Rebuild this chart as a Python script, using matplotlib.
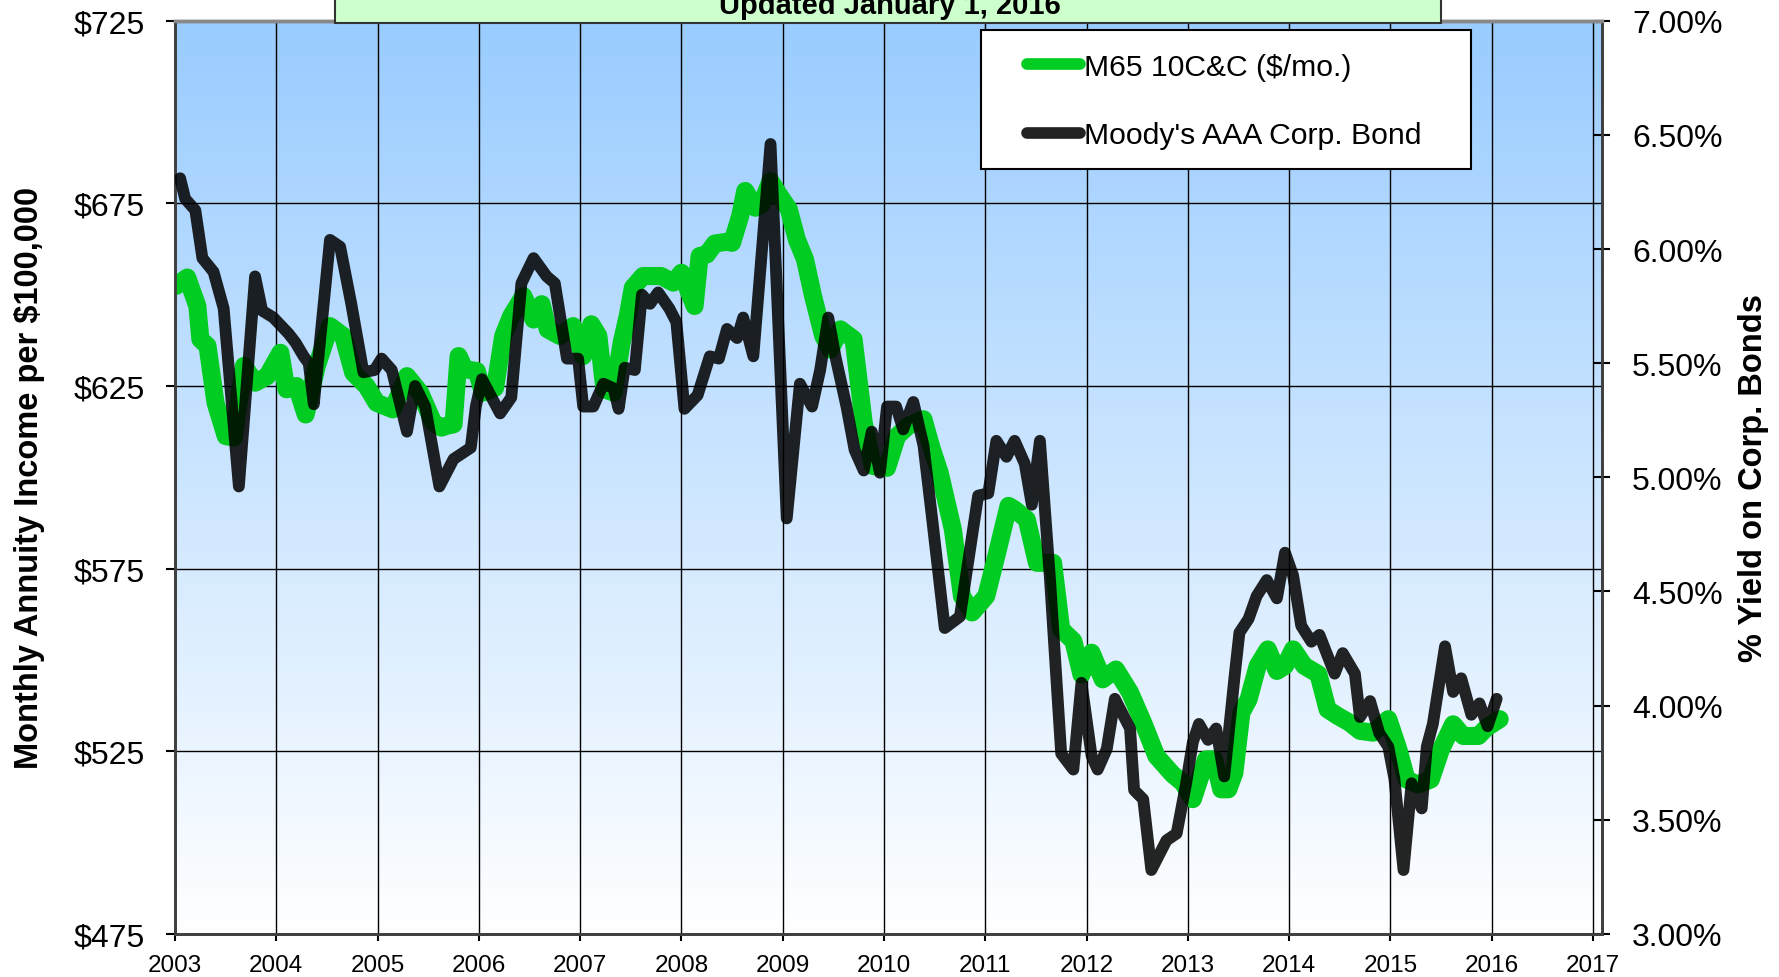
import numpy as np
import matplotlib
matplotlib.use("Agg")
import matplotlib.pyplot as plt
from matplotlib.colors import LinearSegmentedColormap
from matplotlib.lines import Line2D
from matplotlib.patches import Rectangle

plt.rcParams['font.family'] = ['Liberation Sans', 'DejaVu Sans']

# Moody's AAA corporate bond yield (%), right axis
aaa_t = [2003.05, 2003.10, 2003.20, 2003.27, 2003.38, 2003.48, 2003.63, 2003.79, 2003.86, 2003.97,
         2004.12, 2004.19, 2004.27, 2004.32, 2004.37, 2004.53, 2004.63, 2004.74, 2004.86, 2004.97,
         2005.04, 2005.14, 2005.29, 2005.37, 2005.47, 2005.61, 2005.75, 2005.92, 2005.97,
         2006.03, 2006.21, 2006.32, 2006.42, 2006.54, 2006.67, 2006.75, 2006.87, 2006.98,
         2007.03, 2007.13, 2007.23, 2007.33, 2007.38, 2007.44, 2007.54, 2007.61, 2007.69, 2007.77,
         2007.88, 2007.95, 2008.03, 2008.16, 2008.28, 2008.37, 2008.45, 2008.55, 2008.61, 2008.71,
         2008.88, 2009.04, 2009.17, 2009.29, 2009.37, 2009.45, 2009.52, 2009.63, 2009.71, 2009.80,
         2009.88, 2009.96, 2010.03, 2010.12, 2010.19, 2010.29, 2010.39, 2010.47, 2010.60, 2010.75,
         2010.93, 2011.03, 2011.11, 2011.21, 2011.29, 2011.39, 2011.46, 2011.54, 2011.64, 2011.75,
         2011.87, 2011.95, 2012.05, 2012.11, 2012.20, 2012.28, 2012.43, 2012.47, 2012.56, 2012.64,
         2012.79, 2012.89, 2012.98, 2013.05, 2013.11, 2013.20, 2013.28, 2013.36, 2013.46, 2013.51,
         2013.60, 2013.68, 2013.78, 2013.88, 2013.96, 2014.04, 2014.12, 2014.22, 2014.30, 2014.45,
         2014.53, 2014.65, 2014.70, 2014.80, 2014.89, 2014.98, 2015.04, 2015.13, 2015.21, 2015.31,
         2015.36, 2015.42, 2015.54, 2015.62, 2015.70, 2015.80, 2015.88, 2015.96, 2016.05]
aaa_yield = [6.31, 6.22, 6.17, 5.96, 5.90, 5.74, 4.96, 5.88, 5.73, 5.70,
             5.63, 5.59, 5.53, 5.50, 5.32, 6.04, 6.01, 5.76, 5.46, 5.47,
             5.52, 5.47, 5.20, 5.40, 5.31, 4.96, 5.08, 5.13, 5.31,
             5.43, 5.28, 5.35, 5.85, 5.96, 5.88, 5.85, 5.52, 5.52,
             5.31, 5.31, 5.41, 5.39, 5.30, 5.48, 5.47, 5.80, 5.76, 5.81,
             5.74, 5.68, 5.30, 5.36, 5.53, 5.52, 5.65, 5.61, 5.70, 5.53,
             6.46, 4.82, 5.41, 5.31, 5.47, 5.70, 5.53, 5.31, 5.12, 5.03,
             5.20, 5.02, 5.31, 5.31, 5.21, 5.33, 5.14, 4.84, 4.34, 4.39,
             4.92, 4.93, 5.16, 5.09, 5.16, 5.06, 4.88, 5.16, 4.55, 3.79,
             3.72, 4.10, 3.78, 3.72, 3.81, 4.03, 3.90, 3.63, 3.59, 3.28,
             3.41, 3.44, 3.65, 3.84, 3.92, 3.85, 3.90, 3.69, 4.12, 4.32,
             4.38, 4.48, 4.55, 4.47, 4.67, 4.57, 4.35, 4.28, 4.31, 4.14,
             4.23, 4.14, 3.95, 4.02, 3.88, 3.82, 3.68, 3.28, 3.66, 3.55,
             3.82, 3.92, 4.26, 4.06, 4.12, 3.96, 4.01, 3.91, 4.03]

# M65 10C&C monthly income per $100,000, left axis
m65_t = [2003.01, 2003.12, 2003.22, 2003.25, 2003.32, 2003.40, 2003.50, 2003.58, 2003.68, 2003.79,
         2003.91, 2004.04, 2004.10, 2004.20, 2004.29, 2004.40, 2004.53, 2004.66, 2004.76, 2004.89,
         2004.99, 2005.15, 2005.29, 2005.42, 2005.55, 2005.63, 2005.68, 2005.75, 2005.80, 2005.86,
         2005.98, 2006.04, 2006.16, 2006.24, 2006.32, 2006.44, 2006.54, 2006.62, 2006.68, 2006.80,
         2006.93, 2007.03, 2007.11, 2007.18, 2007.24, 2007.33, 2007.41, 2007.47, 2007.52, 2007.62,
         2007.80, 2007.92, 2008.00, 2008.13, 2008.18, 2008.25, 2008.33, 2008.45, 2008.50, 2008.58,
         2008.63, 2008.73, 2008.79, 2008.88, 2008.96, 2009.06, 2009.14, 2009.22, 2009.30, 2009.40,
         2009.47, 2009.57, 2009.70, 2009.80, 2009.89, 2010.03, 2010.13, 2010.24, 2010.39, 2010.47,
         2010.55, 2010.68, 2010.77, 2010.87, 2011.01, 2011.11, 2011.23, 2011.29, 2011.41, 2011.51,
         2011.67, 2011.75, 2011.87, 2011.95, 2012.05, 2012.16, 2012.29, 2012.43, 2012.56, 2012.69,
         2012.85, 2012.95, 2013.05, 2013.18, 2013.26, 2013.33, 2013.40, 2013.46, 2013.53, 2013.60,
         2013.69, 2013.79, 2013.88, 2013.96, 2014.04, 2014.15, 2014.29, 2014.38, 2014.48, 2014.60,
         2014.70, 2014.83, 2014.98, 2015.08, 2015.16, 2015.27, 2015.40, 2015.50, 2015.62, 2015.72,
         2015.87, 2015.95, 2016.08]
m65_income = [652.4, 654.7, 646.9, 637.8, 636.0, 620.4, 611.3, 610.9, 630.5, 625.9,
              627.7, 634.1, 624.1, 625.0, 617.2, 630.5, 641.4, 638.7, 628.6, 625.0,
              620.4, 618.6, 627.7, 623.2, 615.0, 613.6, 614.1, 614.5, 633.2, 629.6,
              629.1, 623.2, 624.5, 638.7, 644.2, 649.6, 643.2, 647.4, 640.5, 638.7,
              641.4, 633.2, 641.9, 638.7, 624.1, 623.2, 636.9, 644.2, 651.9, 655.1,
              655.1, 653.3, 656.0, 646.9, 660.6, 661.0, 664.0, 664.5, 664.2, 671.5,
              678.4, 673.8, 674.7, 681.1, 677.5, 673.4, 665.1, 659.7, 649.6, 638.7,
              635.0, 640.5, 637.8, 615.0, 603.1, 602.6, 611.3, 614.1, 615.9, 608.0,
              601.3, 585.8, 567.5, 563.0, 567.5, 578.5, 592.2, 591.2, 588.5, 576.6,
              576.6, 558.4, 555.2, 546.0, 552.0, 544.7, 547.4, 541.1, 532.8, 523.7,
              518.7, 516.4, 511.9, 522.8, 522.8, 514.6, 514.6, 519.1, 535.6, 539.2,
              548.4, 552.9, 547.0, 548.4, 552.9, 548.4, 546.1, 536.5, 534.7, 532.8,
              530.6, 530.1, 533.8, 525.5, 517.3, 515.9, 517.3, 525.5, 532.4, 529.2,
              529.2, 531.5, 533.8]

years = list(range(2003, 2018))
income_ticks = [475, 525, 575, 625, 675, 725]
yield_ticks = [3.0, 3.5, 4.0, 4.5, 5.0, 5.5, 6.0, 6.5, 7.0]

GREEN = '#00CC22'
XMAX = 2017.09

fig = plt.figure(figsize=(17.79, 9.78), dpi=100)
ax = fig.add_axes([0.0984, 0.044, 0.8021, 0.9338])

# blue-to-white gradient background
bg = LinearSegmentedColormap.from_list('bg', ['#99CCFF', '#FFFFFF'])
grad = np.linspace(0, 1, 256).reshape(-1, 1)
ax.imshow(grad, extent=[2003, XMAX, 475, 725], aspect='auto', cmap=bg,
          origin='upper', zorder=0)

ax.plot(m65_t, m65_income, color=GREEN, lw=13, solid_capstyle='round',
        solid_joinstyle='round', zorder=3)
ax.set_xlim(2003, XMAX)
ax.set_ylim(475, 725)
ax.set_xticks(years)
ax.set_xticklabels([str(y) for y in years])
ax.set_yticks(income_ticks)
ax.set_yticklabels([f'${v}' for v in income_ticks])
ax.grid(True, color='black', lw=1.0)
ax.set_axisbelow('line')
ax.tick_params(axis='y', direction='out', length=6.2, width=1.5, labelsize=23, pad=15.6)
ax.tick_params(axis='x', direction='out', length=4.8, width=1.5, labelsize=17.5, pad=9.5)
ax.set_ylabel('Monthly Annuity Income per $100,000', fontsize=23.5, fontweight='bold')
ax.yaxis.set_label_coords(-0.0911, 0.5)

ax2 = ax.twinx()
ax2.plot(aaa_t, aaa_yield, color='black', alpha=0.86, lw=8.5, solid_capstyle='round',
         solid_joinstyle='round', zorder=4)
ax2.set_ylim(3.0, 7.0)
ax2.set_yticks(yield_ticks)
ax2.set_yticklabels([f'{v:.2f}%' for v in yield_ticks])
ax2.tick_params(axis='y', direction='inout', length=12, width=1.5, labelsize=23, pad=15.6)
ax2.set_ylabel('% Yield on Corp. Bonds', fontsize=23.5, fontweight='bold')
ax2.yaxis.set_label_coords(1.0953, 0.5)

for a in (ax, ax2):
    for side in ('left', 'right', 'bottom'):
        a.spines[side].set_color('#404040')
        a.spines[side].set_linewidth(2)
    a.spines['top'].set_color('#888888')
    a.spines['top'].set_linewidth(2.5)

# title box (cut off at the top of the image)
fig.patches.append(Rectangle((0.1881, 0.9755), 0.6219, 0.06, transform=fig.transFigure,
                             facecolor='#CCFFCC', edgecolor='#333333', lw=1.5, zorder=1))
fig.text(0.5, 0.9857, 'Updated January 1, 2016', ha='center', va='baseline',
         fontsize=21, fontweight='bold', zorder=3)

# legend with a hand-placed frame
fig.patches.append(Rectangle((0.5512, 0.8262), 0.2757, 0.1424, transform=fig.transFigure,
                             facecolor='white', edgecolor='black', lw=1.5, zorder=1))
handles = [Line2D([], [], color=GREEN, lw=8.4, solid_capstyle='round'),
           Line2D([], [], color='#222222', lw=8.4, solid_capstyle='round')]
fig.legend(handles, ['M65 10C&C ($/mo.)', "Moody's AAA Corp. Bond"],
           loc='upper left', bbox_to_anchor=(0.5773, 0.9448), bbox_transform=fig.transFigure,
           frameon=False, borderpad=0, borderaxespad=0, handlelength=1.76,
           handletextpad=0.13, labelspacing=1.34, fontsize=21.7)

fig.savefig('out.png', dpi=100)
